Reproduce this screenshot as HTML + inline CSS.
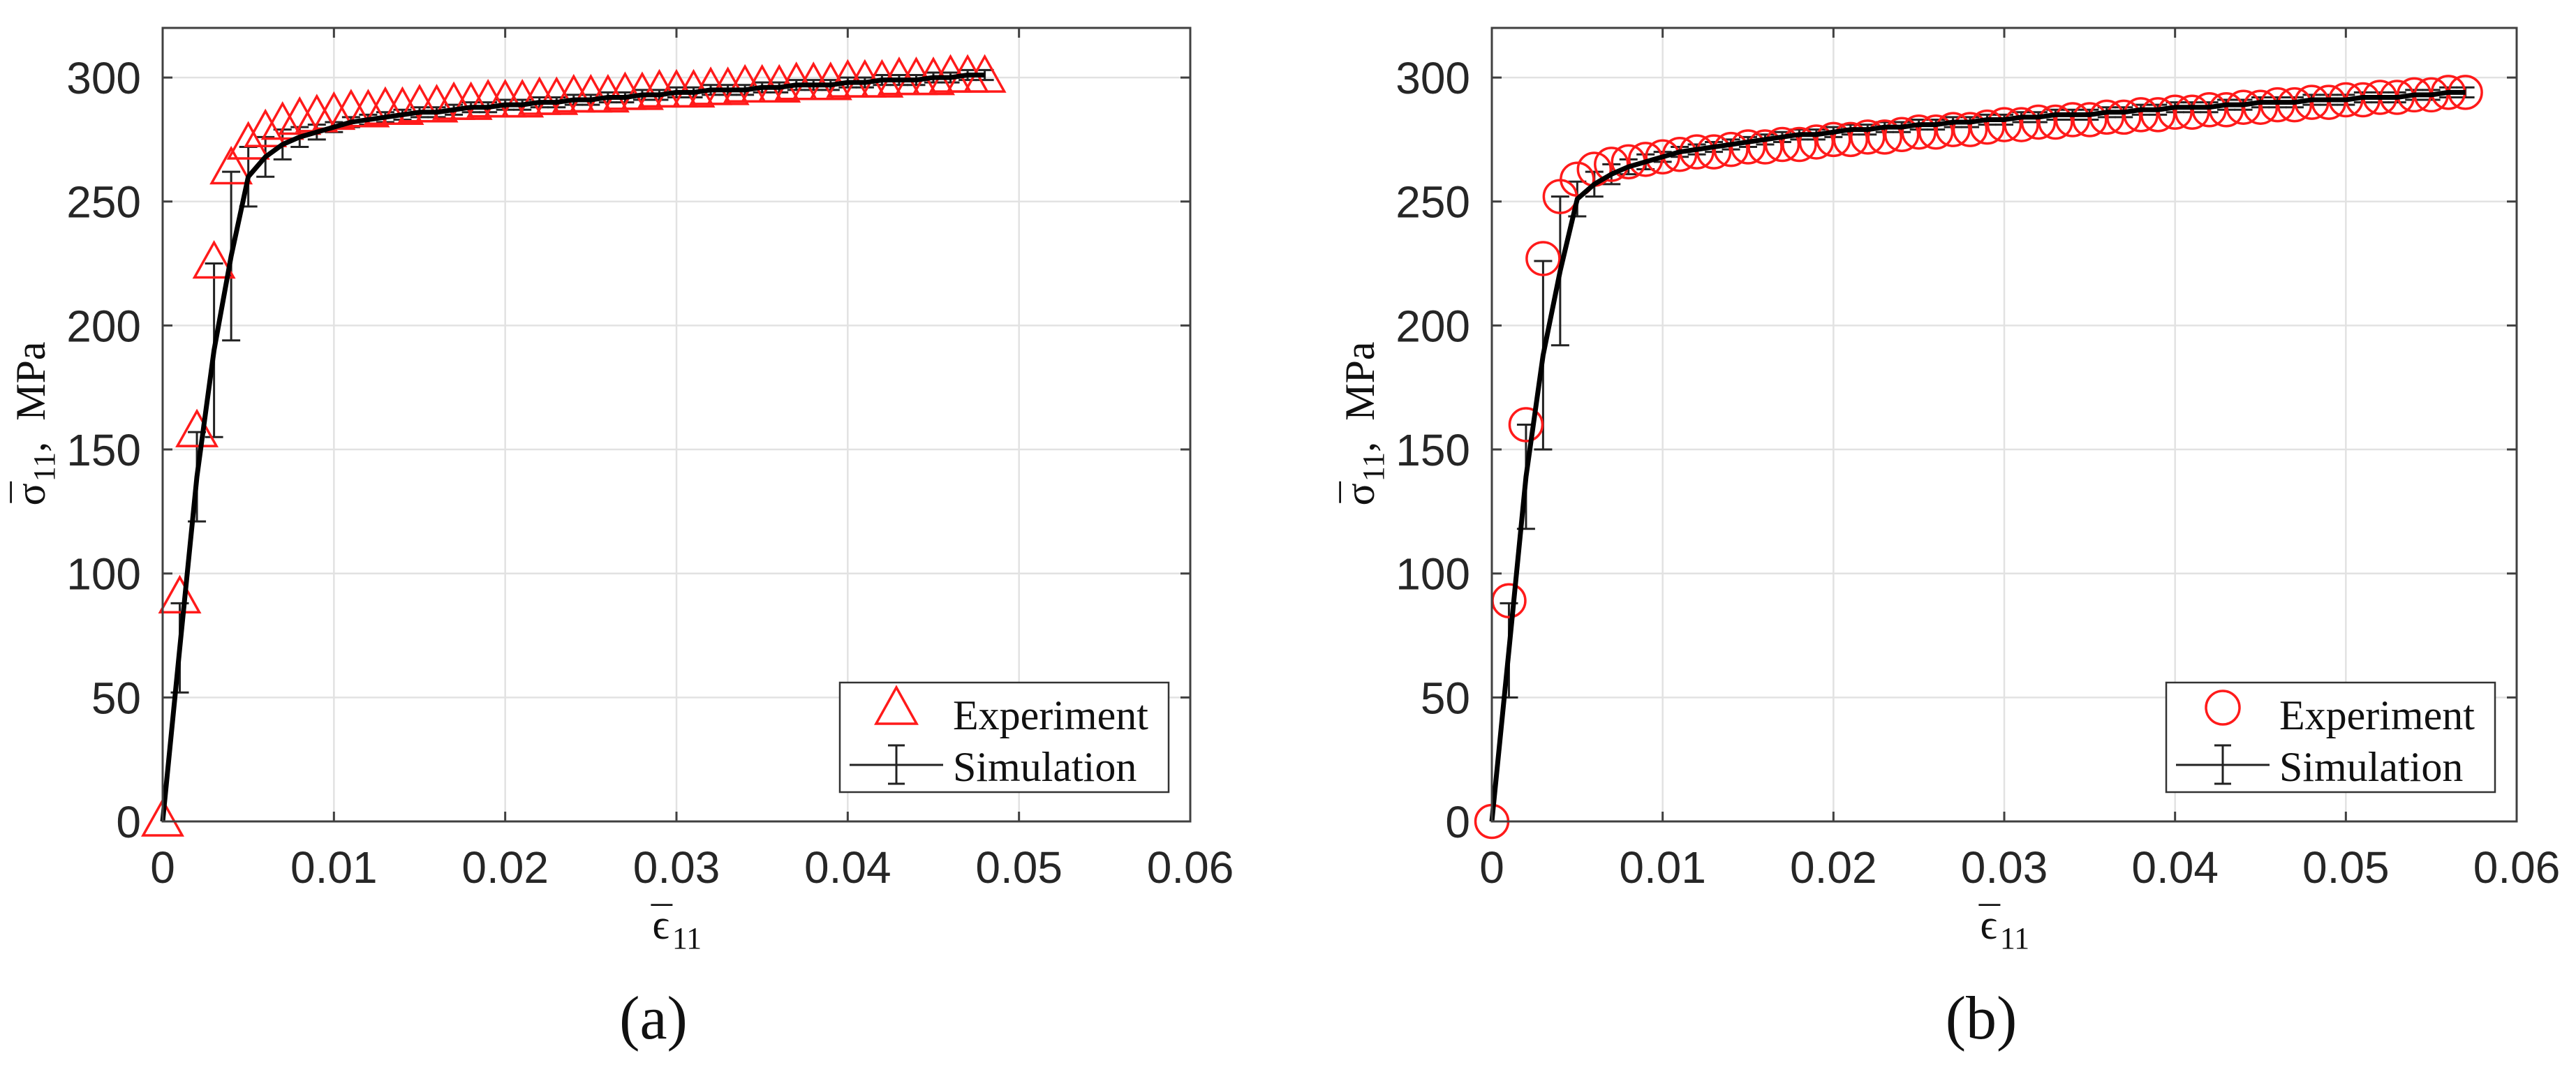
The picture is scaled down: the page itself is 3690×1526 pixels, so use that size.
<!DOCTYPE html>
<html><head><meta charset="utf-8">
<style>
html,body{margin:0;padding:0;background:#fff;}
svg{display:block;}
.tick{font-family:"Liberation Sans",sans-serif;font-size:64px;fill:#262626;}
.serif{font-family:"Liberation Serif",serif;fill:#111;}
</style></head>
<body>
<svg id="fig" width="3690" height="1526" viewBox="0 0 3690 1526" xmlns="http://www.w3.org/2000/svg"></svg>
<script>
// ---- data ----
const xTicks = [0, 0.01, 0.02, 0.03, 0.04, 0.05, 0.06];
const xTickLabels = ["0", "0.01", "0.02", "0.03", "0.04", "0.05", "0.06"];
const yTicks = [0, 50, 100, 150, 200, 250, 300];
const yTickLabels = ["0", "50", "100", "150", "200", "250", "300"];

const strainA = [0,0.001,0.002,0.003,0.004,0.005,0.006,0.007,0.008,0.009,0.010,
0.011,0.012,0.013,0.014,0.015,0.016,0.017,0.018,0.019,0.020,
0.021,0.022,0.023,0.024,0.025,0.026,0.027,0.028,0.029,0.030,
0.031,0.032,0.033,0.034,0.035,0.036,0.037,0.038,0.039,0.040,
0.041,0.042,0.043,0.044,0.045,0.046,0.047,0.048];
const expA = [0,90,157,225,263,273,278,281,283,284,285,
286,286,287,287,288,288,289,289,290,290,
290,291,291,292,292,292,293,293,294,294,
294,295,295,296,296,296,297,297,297,298,
298,298,299,299,299,300,300,300];
const simA = [0,70,139,190,228,260,268,273,276,278,280,
282,283,284,285,286,286,287,288,288,289,
289,290,290,291,291,292,292,293,293,294,
294,295,295,295,296,296,297,297,297,298,
298,299,299,299,300,300,301,301];
const errA = [0,18,18,35,34,12,8,6,4,3,2,
2,2,2,2,2,2,2,2,2,2,
2,2,2,2,2,2,2,2,2,2,
2,2,2,2,2,2,2,2,2,2,
2,2,2,2,2,2,2,2];

const strainB = [0,0.001,0.002,0.003,0.004,0.005,0.006,0.007,0.008,0.009,0.010,
0.011,0.012,0.013,0.014,0.015,0.016,0.017,0.018,0.019,0.020,
0.021,0.022,0.023,0.024,0.025,0.026,0.027,0.028,0.029,0.030,
0.031,0.032,0.033,0.034,0.035,0.036,0.037,0.038,0.039,0.040,
0.041,0.042,0.043,0.044,0.045,0.046,0.047,0.048,0.049,0.050,
0.051,0.052,0.053,0.054,0.055,0.056,0.057];
const expB = [0,89,160,227,252,259,263,265,266,267,268,
269,270,270,271,272,272,273,273,274,275,
275,276,276,277,278,278,279,279,280,281,
281,282,282,283,283,284,284,285,285,286,
286,287,287,288,288,289,289,290,290,291,
291,292,292,293,293,294,294];
const simB = [0,69,139,188,222,251,257,261,264,266,268,
270,271,272,273,274,275,276,277,277,278,
279,279,280,280,281,281,282,282,283,283,
284,284,285,285,285,286,286,287,287,288,
288,288,289,289,290,290,290,291,291,291,
292,292,292,293,293,294,294];
const errB = [0,19,21,38,30,7,5,4,3,3,2,
2,2,2,2,2,2,2,2,2,2,
2,2,2,2,2,2,2,2,2,2,
2,2,2,2,2,2,2,2,2,2,
2,2,2,2,2,2,2,2,2,2,
2,2,2,2,2,2,2];

const NS = "http://www.w3.org/2000/svg";
const svg = document.getElementById("fig");
function mk(tag, attrs, parent){
  const e = document.createElementNS(NS, tag);
  for (const k in attrs) e.setAttribute(k, attrs[k]);
  (parent || svg).appendChild(e);
  return e;
}

function drawPanel(cfg){
  const L = cfg.left, R = cfg.right, T = 40, B = 1177;
  const xMax = 0.06, yMin = 0, yMax = 320;
  const sx = v => L + (v / xMax) * (R - L);
  const sy = v => B - ((v - yMin) / (yMax - yMin)) * (B - T);
  const g = mk("g", {});
  
  

  xTicks.forEach(t => {
    const l = mk("line", {x1:sx(t), x2:sx(t), y1:T, y2:B, stroke:"#e2e2e2", "stroke-width":2.5}, g);
    
    
  });
  yTicks.forEach(t => {
    const l = mk("line", {x1:L, x2:R, y1:sy(t), y2:sy(t), stroke:"#e2e2e2", "stroke-width":2.5}, g);
    
    
  });

  const eb = mk("g", {stroke:"#222", "stroke-width":3, fill:"none"}, g);
  
  
  cfg.x.forEach((xv, i) => {
    const e = cfg.err[i];
    if (e <= 0) return;
    const cx = sx(xv), y1 = sy(cfg.sim[i] - e), y2 = sy(cfg.sim[i] + e);
    const p = mk("path", {d:`M${cx},${y1}V${y2}M${cx-13},${y1}H${cx+13}M${cx-13},${y2}H${cx+13}`}, eb);
    
    
  });

  const mg = mk("g", {stroke:"#ff1a1a", "stroke-width":3.5, fill:"none"}, g);
  
  
  cfg.x.forEach((xv, i) => {
    const cx = sx(xv), cy = sy(cfg.exp[i]);
    let m;
    if (cfg.marker === "tri") {
      m = mk("path", {d:`M${cx},${cy-30}L${cx+28},${cy+20}L${cx-28},${cy+20}Z`}, mg);
    } else {
      m = mk("circle", {cx:cx, cy:cy, r:23.5}, mg);
    }
    
    
  });

  const pts = cfg.x.map((xv, i) => `${sx(xv)},${sy(cfg.sim[i])}`).join(" ");
  const pl = mk("polyline", {points:pts, fill:"none", stroke:"#000", "stroke-width":7, "stroke-linejoin":"round"}, g);
  
  

  const box = mk("rect", {x:L, y:T, width:R-L, height:B-T, fill:"none", stroke:"#404040", "stroke-width":3}, g);
  
  
  xTicks.forEach((t, i) => {
    const tk = mk("path", {d:`M${sx(t)},${B}V${B-14}M${sx(t)},${T}V${T+14}`, stroke:"#404040", "stroke-width":3}, g);
    
    
    const tx = mk("text", {x:sx(t), y:B+88, "text-anchor":"middle", class:"tick"}, g);
    tx.textContent = xTickLabels[i];
    
    
  });
  yTicks.forEach((t, i) => {
    const tk = mk("path", {d:`M${L},${sy(t)}H${L+14}M${R},${sy(t)}H${R-14}`, stroke:"#404040", "stroke-width":3}, g);
    
    
    const tx = mk("text", {x:L-31, y:sy(t)+23, "text-anchor":"end", class:"tick"}, g);
    tx.textContent = yTickLabels[i];
    
    
  });

  const xt = mk("text", {x:(L+R)/2, y:1345, "text-anchor":"middle", class:"serif", "font-size":"60", fill:"#333"}, g);
  xt.innerHTML = '<tspan>ϵ</tspan><tspan dx="-26" dy="-4">¯</tspan><tspan font-size="44" dy="18">11</tspan>';
  
  
  const yt = mk("text", {x:0, y:0, "text-anchor":"middle", class:"serif", "font-size":"60", fill:"#333", transform:`translate(${cfg.ylabX},607) rotate(-90)`}, g);
  yt.innerHTML = '<tspan>σ</tspan><tspan dx="-28" dy="-4">¯</tspan><tspan font-size="44" dy="18">11</tspan><tspan dy="-14">,</tspan><tspan dx="30">MPa</tspan>';
  
  

  const lx = R - 502, lr = R - 31;
  const lg = mk("g", {}, g);
  
  
  mk("rect", {x:lx, y:978, width:lr-lx, height:157, fill:"#fff", stroke:"#333", "stroke-width":2.5}, lg);
  const mx = lx + 81;
  let lm;
  if (cfg.marker === "tri") lm = mk("path", {d:`M${mx},985L${mx+29},1037L${mx-29},1037Z`, fill:"none", stroke:"#ff1a1a", "stroke-width":3.5}, lg);
  else lm = mk("circle", {cx:mx, cy:1014, r:24, fill:"none", stroke:"#ff1a1a", "stroke-width":3.5}, lg);
  
  
  const ls = mk("path", {d:`M${lx+14},1096H${lx+148}M${mx},1068V1123M${mx-12},1068H${mx+12}M${mx-12},1123H${mx+12}`, stroke:"#222", "stroke-width":3, fill:"none"}, lg);
  
  
  const t1 = mk("text", {x:lx+162, y:1045, class:"serif", "font-size":"60"}, lg);
  t1.textContent = "Experiment";
  
  
  const t2 = mk("text", {x:lx+162, y:1119, class:"serif", "font-size":"60"}, lg);
  t2.textContent = "Simulation";
  
  

  const cap = mk("text", {x:cfg.capX, y:1488, "text-anchor":"middle", class:"serif", "font-size":"88"}, g);
  cap.textContent = cfg.caption;
  
  
}

drawPanel({name:"panel-a", left:233, right:1705, x:strainA, exp:expA, sim:simA, err:errA, marker:"tri", ylabX:64, capX:936, caption:"(a)"});
drawPanel({name:"panel-b", left:2137, right:3605, x:strainB, exp:expB, sim:simB, err:errB, marker:"circ", ylabX:1968, capX:2838, caption:"(b)"});
</script>
</body></html>
